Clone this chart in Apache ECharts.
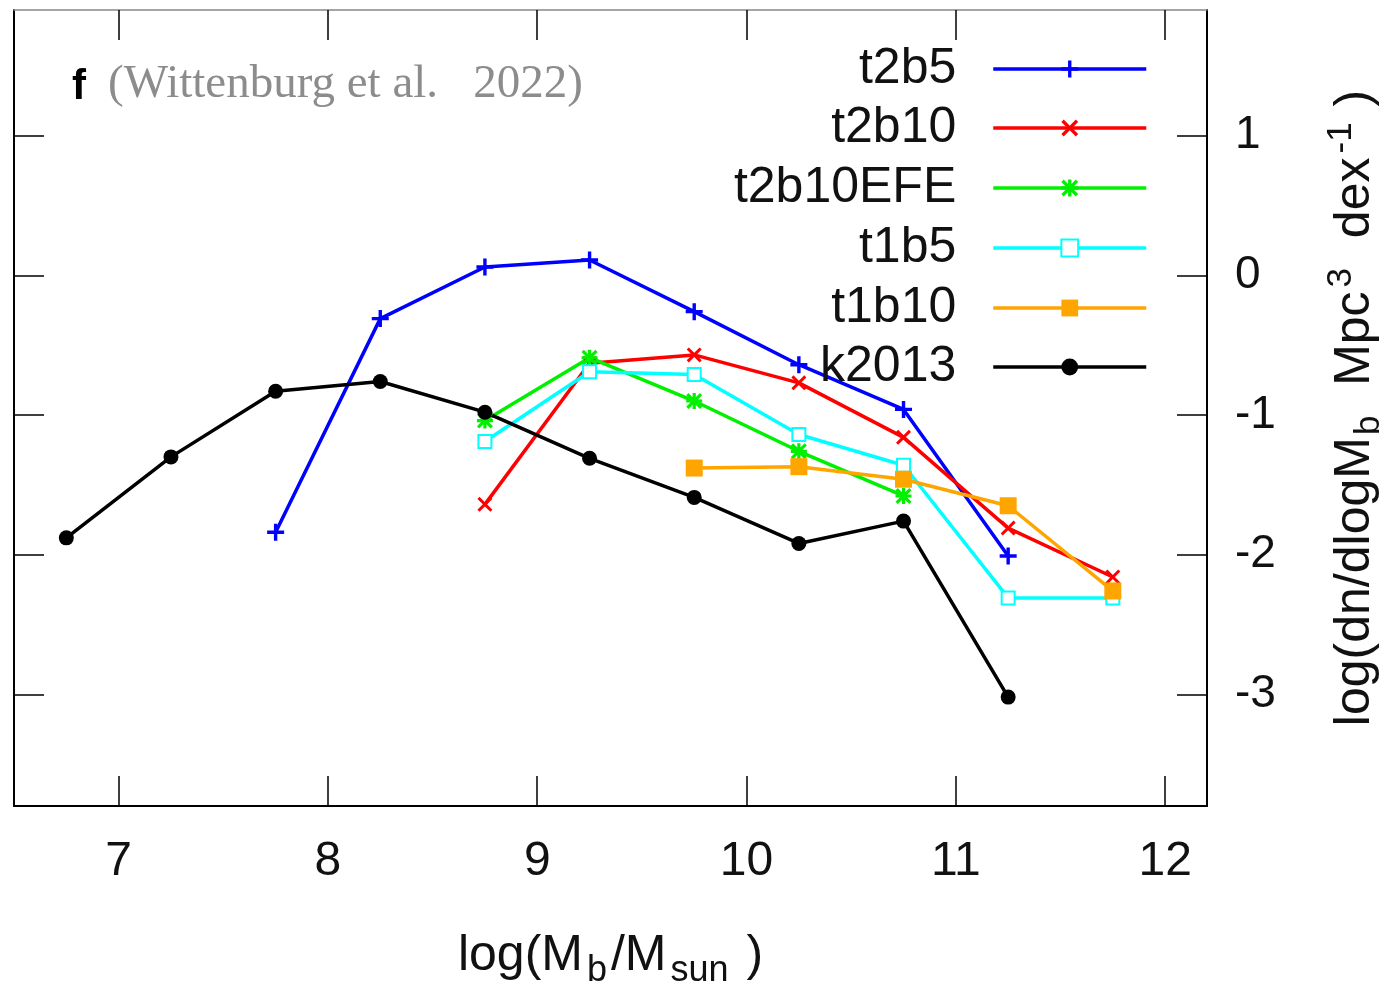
<!DOCTYPE html>
<html>
<head>
<meta charset="utf-8">
<script src="https://cdn.jsdelivr.net/npm/echarts@6/dist/echarts.min.js"></script>
<style>
  html, body { margin: 0; padding: 0; background: #fff; }
  #chart { width: 1387px; height: 985px; }
</style>
</head>
<body>
<div id="chart"></div>
<script>
// Baryonic mass function: log(M_b/M_sun) bins vs log number density
const massBins = [6.75, 7.25, 7.75, 8.25, 8.75, 9.25, 9.75, 10.25, 10.75, 11.25, 11.75];

const t2b5      = [null, null, -1.84, -0.31, 0.06, 0.11, -0.26, -0.64, -0.96, -2.01, null];
const t2b10     = [null, null, null, null, -1.64, -0.63, -0.57, -0.77, -1.16, -1.81, -2.16];
const t2b10EFE  = [null, null, null, null, -1.04, -0.59, -0.90, -1.26, -1.58, null, null];
const t1b5      = [null, null, null, null, -1.19, -0.69, -0.71, -1.14, -1.36, -2.31, -2.31];
const t1b10     = [null, null, null, null, null, null, -1.38, -1.37, -1.46, -1.65, -2.26];
const k2013     = [-1.88, -1.30, -0.83, -0.76, -0.98, -1.31, -1.59, -1.92, -1.76, -3.02, null];

const seriesNames = ['t2b5', 't2b10', 't2b10EFE', 't1b5', 't1b10', 'k2013'];
const xTicks = [7, 8, 9, 10, 11, 12];
const yTicks = [-3, -2, -1, 0, 1];

const SANS = '"Liberation Sans", Arial, Helvetica, sans-serif';

// filled marker outlines: plus, diagonal cross and their union
const plusShape = 'M4,0H6V4H10V6H6V10H4V6H0V4H4Z';
const crossShape = 'M0,1.4L1.4,0L5,3.6L8.6,0L10,1.4L6.4,5L10,8.6L8.6,10L5,6.4L1.4,10L0,8.6L3.6,5Z';
const plusPath = 'path://' + plusShape;
const crossPath = 'path://' + crossShape;
const starPath = 'path://' + plusShape + crossShape;

const styles = {
  t2b5:     { color: '#0000ff', symbol: plusPath,  size: 17, bw: 0 },
  t2b10:    { color: '#ff0000', symbol: crossPath, size: 15, bw: 0 },
  t2b10EFE: { color: '#00f000', symbol: starPath,  size: 16, bw: 0 },
  t1b5:     { color: '#00ffff', symbol: 'emptyRect', size: 13, bw: 3 },
  t1b10:    { color: '#ffa500', symbol: 'rect',    size: 17, bw: 0 },
  k2013:    { color: '#000000', symbol: 'circle',  size: 15, bw: 0 }
};

const values = { t2b5, t2b10, t2b10EFE, t1b5, t1b10, k2013 };

function pairs(ys) {
  const out = [];
  massBins.forEach((x, i) => { if (ys[i] !== null) out.push([x, ys[i]]); });
  return out;
}

const series = seriesNames.map(name => {
  const s = styles[name];
  return {
    name: name,
    type: 'line',
    data: pairs(values[name]),
    symbol: s.symbol,
    symbolSize: s.size,
    showAllSymbol: true,
    lineStyle: { color: s.color, width: 3.5 },
    itemStyle: { color: s.color, borderColor: s.color, borderWidth: s.bw },
    emphasis: { disabled: true },
    animation: false
  };
});

// one legend per entry so the sample lines line up on the right
const legendRows = [68, 127, 187, 247, 307, 366];
const legends = seriesNames.map((name, i) => ({
  data: [name],
  orient: 'horizontal',
  align: 'right',
  right: 239,
  top: legendRows[i] - 24,
  padding: 0,
  itemWidth: 153,
  itemHeight: 21,
  selectedMode: false,
  lineStyle: { width: 3.5 },
  textStyle: { fontFamily: SANS, fontSize: 50, color: '#111', padding: [0, 32, 0, 0] }
}));

const xBase = {
  type: 'value', min: 6.5, max: 12.2,
  splitLine: { show: false }
};
const yBase = {
  type: 'value', min: -3.8, max: 1.9,
  splitLine: { show: false }
};

const option = {
  backgroundColor: '#fff',
  animation: false,
  grid: { left: 14, right: 180, top: 10, bottom: 179, containLabel: false, outerBoundsMode: 'none' },
  legend: legends,
  xAxis: [
    Object.assign({}, xBase, {
      position: 'bottom',
      name: '{t|log(M}{s|b}{t|/M}{s|sun}{t| )}',
      nameLocation: 'middle',
      nameGap: 117,
      nameTextStyle: {
        rich: {
          t: { fontFamily: SANS, fontSize: 50, color: '#111' },
          s: { fontFamily: SANS, fontSize: 36, color: '#111', padding: [30, 4, 0, 4] }
        }
      },
      axisLine: { show: true, onZero: false, lineStyle: { color: '#000', width: 2 } },
      axisTick: { show: true, inside: true, length: 30, customValues: xTicks, lineStyle: { color: '#000', width: 1.5 } },
      axisLabel: { show: true, customValues: xTicks, margin: 32, fontFamily: SANS, fontSize: 48, color: '#111' }
    }),
    Object.assign({}, xBase, {
      position: 'top',
      axisLine: { show: true, onZero: false, lineStyle: { color: '#888', width: 1.5 } },
      axisTick: { show: true, inside: true, length: 30, customValues: xTicks, lineStyle: { color: '#000', width: 1.5 } },
      axisLabel: { show: false }
    })
  ],
  yAxis: [
    Object.assign({}, yBase, {
      position: 'right',
      name: '{t|log(dn/dlogM}{s|b}{t|  Mpc}{p|3}{t|  dex}{p|-1}{t| )}',
      nameLocation: 'middle',
      nameRotate: 90,
      nameGap: 117,
      nameTextStyle: {
        rich: {
          t: { fontFamily: SANS, fontSize: 50, color: '#111' },
          s: { fontFamily: SANS, fontSize: 35, color: '#111', padding: [28, 2, 0, 2] },
          p: { fontFamily: SANS, fontSize: 35, color: '#111', padding: [0, 2, 28, 4] }
        }
      },
      axisLine: { show: true, onZero: false, lineStyle: { color: '#000', width: 2 } },
      axisTick: { show: true, inside: true, length: 30, customValues: yTicks, lineStyle: { color: '#000', width: 1.5 } },
      axisLabel: { show: true, customValues: yTicks, margin: 28, fontFamily: SANS, fontSize: 46, color: '#111' }
    }),
    Object.assign({}, yBase, {
      position: 'left',
      axisLine: { show: true, onZero: false, lineStyle: { color: '#000', width: 2 } },
      axisTick: { show: true, inside: true, length: 30, customValues: yTicks, lineStyle: { color: '#000', width: 1.5 } },
      axisLabel: { show: false }
    })
  ],
  graphic: [
    {
      type: 'text', left: 72, top: 66,
      style: { text: 'f', font: 'bold 42px ' + SANS, fill: '#000' }
    },
    {
      type: 'text', left: 108, top: 61,
      style: { text: '(Wittenburg et al.   2022)', font: '47px "Liberation Serif", "Times New Roman", serif', fill: '#8c8c8c' }
    }
  ],
  series: series
};

const chart = echarts.init(document.getElementById('chart'), null, { renderer: 'canvas' });
chart.setOption(option);
</script>
</body>
</html>
